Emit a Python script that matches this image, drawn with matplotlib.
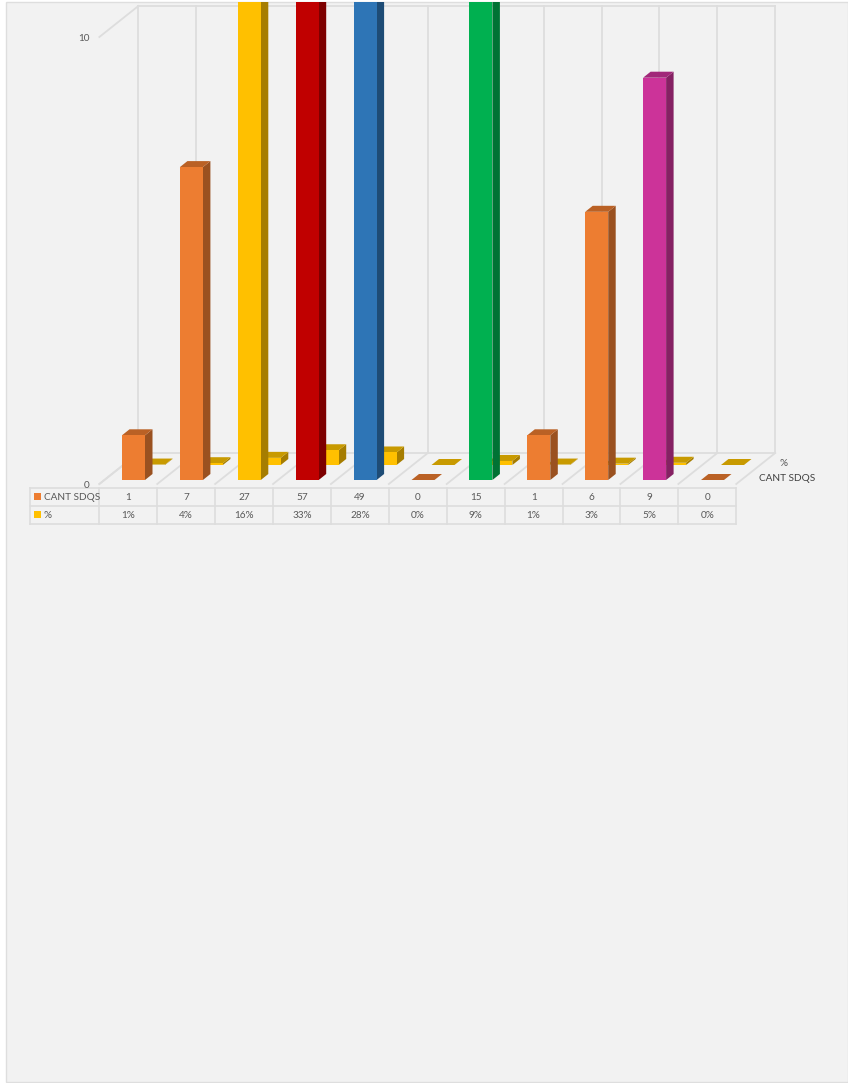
import numpy as np
import matplotlib
matplotlib.use('Agg')
import matplotlib.pyplot as plt
from matplotlib.patches import Polygon, Rectangle

plt.rcParams['font.family'] = ['Lato', 'DejaVu Sans']

# --------------------------------------
# Data
# --------------------------------------
series_names = ['CANT SDQS', '%']
cant_sdqs = [1, 7, 27, 57, 49, 0, 15, 1, 6, 9, 0]
pct = [0.01, 0.04, 0.16, 0.33, 0.28, 0.0, 0.09, 0.01, 0.03, 0.05, 0.0]
pct_labels = ['1%', '4%', '16%', '33%', '28%', '0%', '9%', '1%', '3%', '5%', '0%']
y_ticks = [0, 10]

# (face, side, top) for each bar of the front series
orange = ('#ED7D31', '#9A5120', '#BA6125')
yellow = ('#FFC000', '#A67D00', '#C89A00')
red = ('#C00000', '#7D0000', '#970000')
blue = ('#2E75B6', '#1E4C76', '#245C8F')
green = ('#00B050', '#007234', '#008B3F')
pink = ('#CC3399', '#852163', '#A12879')
front_colors = [orange, orange, yellow, red, blue, orange, green, orange, orange, pink, orange]

# --------------------------------------
# Layout, in pixels of the 848x1083 picture
# --------------------------------------
W, H = 848, 1083
PX_CAT = 57.9   # one category
PX_VAL = 44.7   # one unit of value
X0, Y0 = 128.3, 480.0  # category 0, value 0 of the front series
TOP, BOTTOM = 2, 1082  # panel edges
BAR_W = 23 / PX_CAT
BAR_OFF = -6.3 / PX_CAT
DEPTH_X, DEPTH_Y = 7.5 / PX_CAT, 6 / PX_VAL  # depth of one bar
BACK_X, BACK_Y = 20 / PX_CAT, 15 / PX_VAL    # front series to back series
FLOOR_X, FLOOR_Y = 39 / PX_CAT, 31 / PX_VAL  # front of the floor to back wall
GRID = '#DDDDDD'
TXT = '#595959'
FS = 7.2

fig = plt.figure(figsize=(W / 100, H / 100), dpi=100, facecolor='white')

# page axes in pixels, for the panel and the data table
pg = fig.add_axes([0, 0, 1, 1])
pg.set_xlim(0, W)
pg.set_ylim(H, 0)
pg.axis('off')
pg.add_patch(Rectangle((6.2, TOP), W - 6.7, BOTTOM - TOP, fc='#F2F2F2', ec='#DEDEDE', lw=1))

# value axes: x in categories, y in chart values
ax = fig.add_axes([0, (H - BOTTOM) / H, 1, (BOTTOM - TOP) / H])
ax.set_xlim(-X0 / PX_CAT, (W - X0) / PX_CAT)
ax.set_ylim((Y0 - BOTTOM) / PX_VAL, (Y0 - TOP) / PX_VAL)
ax.axis('off')

n = len(cant_sdqs)
edges = np.arange(n + 1) - 0.5
y_front = -4 / PX_VAL  # front edge of the floor sits a little below the bars

# back wall and floor
for e in edges:
    ax.plot([e + FLOOR_X, e + FLOOR_X], [y_front + FLOOR_Y, 10 + y_front + FLOOR_Y], color=GRID, lw=1.3, zorder=1)
    ax.plot([e, e + FLOOR_X], [y_front, y_front + FLOOR_Y], color=GRID, lw=1.3, zorder=1)
for t in y_ticks:
    ax.plot([edges[0] + FLOOR_X, edges[-1] + FLOOR_X], [t + y_front + FLOOR_Y] * 2, color=GRID, lw=1.3, zorder=1)
    ax.plot([edges[0], edges[0] + FLOOR_X], [t + y_front, t + y_front + FLOOR_Y], color=GRID, lw=1.3, zorder=1)
    ax.text(edges[0] - 10 / PX_CAT, t + y_front - 0.03, str(t), ha='right', va='center', fontsize=FS, color=TXT)


def bar3d(x, base, val, cols, z):
    # front face through bar(), side and top as parallelograms behind it
    left = x + BAR_OFF
    right = left + BAR_W
    tp = base + val
    ax.bar(left, val, BAR_W, bottom=base, align='edge', color=cols[0], zorder=z + 0.2, lw=0)
    ax.add_patch(Polygon([(right, base), (right + DEPTH_X, base + DEPTH_Y),
                          (right + DEPTH_X, tp + DEPTH_Y), (right, tp)], fc=cols[1], lw=0, zorder=z))
    ax.add_patch(Polygon([(left, tp), (right, tp), (right + DEPTH_X, tp + DEPTH_Y),
                          (left + DEPTH_X, tp + DEPTH_Y)], fc=cols[2], lw=0, zorder=z + 0.1))


# back series first, the front one covers it
for i in range(n):
    bar3d(i + BACK_X, BACK_Y, pct[i], yellow, 2 + i * 0.01)
for i in range(n):
    bar3d(i, 0, cant_sdqs[i], front_colors[i], 3 + i * 0.01)

# depth axis labels
pg.text(779, 463, series_names[1], ha='left', va='center', fontsize=FS, color=TXT)
pg.text(759, 478.5, series_names[0], ha='left', va='center', fontsize=FS, color='#404040')

# --------------------------------------
# Data table
# --------------------------------------
tbl_l, tbl_r = 30, X0 + (n - 0.5) * PX_CAT
rows = [488, 506, 524]
for r in rows:
    pg.plot([tbl_l, tbl_r], [r, r], color=GRID, lw=1.2, zorder=2)
pg.plot([tbl_l, tbl_l], [rows[0], rows[-1]], color=GRID, lw=1.2, zorder=2)
for e in edges:
    xe = X0 + e * PX_CAT
    pg.plot([xe, xe], [rows[0], rows[-1]], color=GRID, lw=1.2, zorder=2)

pg.add_patch(Rectangle((34, 493), 7, 7, fc=orange[0], lw=0, zorder=3))
pg.add_patch(Rectangle((34, 511), 7, 7, fc=yellow[0], lw=0, zorder=3))
pg.text(43.5, 497.5, series_names[0], ha='left', va='center', fontsize=FS, color=TXT)
pg.text(43.5, 515.5, series_names[1], ha='left', va='center', fontsize=FS, color=TXT)
for i in range(n):
    xc = X0 + i * PX_CAT
    pg.text(xc, 497.5, str(cant_sdqs[i]), ha='center', va='center', fontsize=FS, color=TXT)
    pg.text(xc, 515.5, pct_labels[i], ha='center', va='center', fontsize=FS, color=TXT)

fig.savefig('out.png', dpi=100, facecolor='white')
